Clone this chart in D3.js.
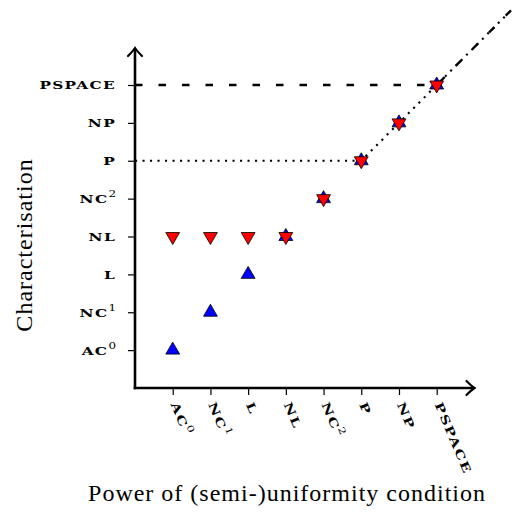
<!DOCTYPE html>
<html><head><meta charset="utf-8">
<script src="https://cdn.jsdelivr.net/npm/d3@7"></script>
<style>body{margin:0;background:#fff}svg{display:block}</style>
</head><body>
<svg id="c" width="512" height="517"></svg>
<script>
// ---- data ----
const tickBase = ["AC", "NC", "L", "NL", "NC", "P", "NP", "PSPACE"];
const tickSup  = ["0",  "1",  "",  "",   "2",  "",  "",   ""];
const levels   = [1, 2, 3, 4, 5, 6, 7, 8];
const lowerBound = [1, 2, 3, 4, 5, 6, 7, 8];   // blue up-triangles
const upperBound = [4, 4, 4, 4, 5, 6, 7, 8];   // red down-triangles
const pspaceRef = [[0, 8], [8, 8], [10, 10]];  // loosely dashed
const pRef      = [[0, 6], [6, 6], [10, 10]];  // dotted
const xTitle = "Power of (semi-)uniformity condition";
const yTitle = "Characterisation";

// ---- layout ----
const svg = d3.select("#c");
const x = d3.scaleLinear().domain([0, 8]).range([135, 436.7]);
const y = d3.scaleLinear().domain([0, 8]).range([388, 85]);
const tickFont = "DejaVu Serif";
const titleFont = "Liberation Serif";
const stretch = 1.33;

// reference lines
const line = d3.line().x(d => x(d[0])).y(d => y(d[1]));
svg.append("path").attr("d", line(pspaceRef)).attr("fill", "none")
  .attr("stroke", "#000").attr("stroke-width", 2.4).attr("stroke-dasharray", "7.5 16");
svg.append("path").attr("d", line(pRef)).attr("fill", "none")
  .attr("stroke", "#000").attr("stroke-width", 2.1).attr("stroke-dasharray", "2.1 5.4");

function fillLabel(sel, i) {
  sel.attr("font-family", tickFont).attr("font-size", 11.5).attr("font-weight", "bold")
    .attr("letter-spacing", 1);
  sel.append("tspan").text(tickBase[i]);
  if (tickSup[i]) sel.append("tspan").attr("font-weight", "normal").attr("font-size", 9)
    .attr("dy", "-0.65em").attr("letter-spacing", 0).text(tickSup[i]);
  const w = sel.node().getComputedTextLength();
  sel.attr("textLength", w * stretch).attr("lengthAdjust", "spacingAndGlyphs");
}

// axes (ticks + labels via d3 axis)
const yAxis = svg.append("g").attr("transform", `translate(${x(0)},0)`)
  .call(d3.axisLeft(y).tickValues(levels).tickSize(7).tickPadding(12).tickFormat(""));
yAxis.select(".domain").remove();
yAxis.selectAll(".tick line").attr("stroke-width", 1.2);
yAxis.selectAll(".tick text").each(function(d, i) {
  const t = d3.select(this).attr("dy", "0.34em");
  fillLabel(t, i);
});

const xAxis = svg.append("g").attr("transform", `translate(0,${y(0)})`)
  .call(d3.axisBottom(x).tickValues(levels).tickSize(7).tickFormat(""));
xAxis.select(".domain").remove();
xAxis.selectAll(".tick line").attr("stroke-width", 1.2);
xAxis.selectAll(".tick text").each(function(d, i) {
  const t = d3.select(this).attr("text-anchor", "start").attr("y", 0).attr("dy", 0)
    .attr("transform", "translate(5,13) rotate(67) translate(0,8.5)");
  fillLabel(t, i);
});

// axis lines with open arrow heads
const axisW = 2.6;
svg.append("line").attr("x1", x(0)).attr("y1", y(0) + axisW / 2).attr("x2", x(0)).attr("y2", 49)
  .attr("stroke", "#000").attr("stroke-width", axisW);
svg.append("line").attr("x1", x(0) - axisW / 2).attr("y1", y(0)).attr("x2", 473).attr("y2", y(0))
  .attr("stroke", "#000").attr("stroke-width", axisW);
svg.append("path").attr("d", `M${x(0) - 7},56 Q${x(0) - 2},51 ${x(0)},48 Q${x(0) + 2},51 ${x(0) + 7},56`)
  .attr("fill", "none").attr("stroke", "#000").attr("stroke-width", 2.2).attr("stroke-linecap", "round");
svg.append("path").attr("d", `M466.5,${y(0) - 7} Q471.5,${y(0) - 2} 474.5,${y(0)} Q471.5,${y(0) + 2} 466.5,${y(0) + 7}`)
  .attr("fill", "none").attr("stroke", "#000").attr("stroke-width", 2.2).attr("stroke-linecap", "round");

// markers
const tri = d3.symbol().type(d3.symbolTriangle).size(83);
svg.append("g").selectAll("path").data(levels).join("path")
  .attr("d", tri).attr("fill", "#0000ff").attr("stroke", "#000").attr("stroke-width", 0.8)
  .attr("transform", (d, i) => `translate(${x(d)},${y(lowerBound[i])})`);
svg.append("g").selectAll("path").data(levels).join("path")
  .attr("d", tri).attr("fill", "#ff0000").attr("stroke", "#000").attr("stroke-width", 0.8)
  .attr("transform", (d, i) => `translate(${x(d)},${y(upperBound[i])}) rotate(180)`);

// titles
svg.append("text").attr("x", 287).attr("y", 501).attr("text-anchor", "middle")
  .attr("font-family", titleFont).attr("font-size", 24).attr("letter-spacing", 1).text(xTitle);
svg.append("text").attr("transform", "translate(32,245) rotate(-90)").attr("text-anchor", "middle")
  .attr("font-family", titleFont).attr("font-size", 24).attr("letter-spacing", 1).text(yTitle);
</script>
</body></html>
